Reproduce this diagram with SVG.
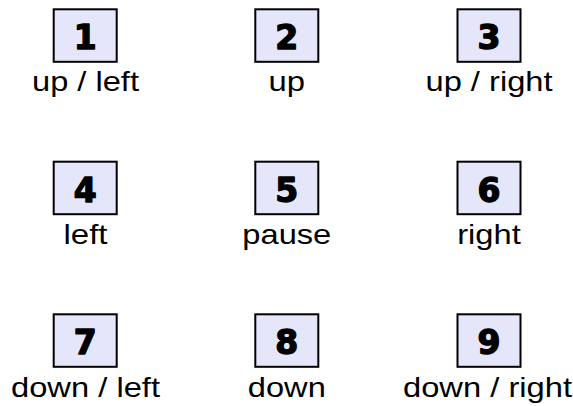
<svg xmlns="http://www.w3.org/2000/svg" width="573" height="406" viewBox="0 0 573 406">
<style>
.box{fill:#e6e6fa;stroke:#000;stroke-width:2}
.num{font-family:"DejaVu Sans",sans-serif;font-weight:bold;font-size:33px;text-anchor:middle;fill:#000;stroke:#000;stroke-width:1.4;stroke-linejoin:round}
.lbl{font-family:"Liberation Sans",Arial,sans-serif;font-size:28px;text-anchor:middle;fill:#000}
</style>
<rect width="573" height="406" fill="#fff"/>
<g id="n1"><rect class="box" x="53.7" y="9.3" width="63" height="52.5"/><text class="num" x="85.2" y="48.5">1</text><text class="lbl" x="85.5" y="91" textLength="107" lengthAdjust="spacingAndGlyphs">up / left</text></g>
<g id="n2"><rect class="box" x="255.3" y="9.3" width="63" height="52.5"/><text class="num" x="286.8" y="48.5">2</text><text class="lbl" x="286.8" y="91" textLength="36.5" lengthAdjust="spacingAndGlyphs">up</text></g>
<g id="n3"><rect class="box" x="457.5" y="9.3" width="63" height="52.5"/><text class="num" x="489" y="48.5">3</text><text class="lbl" x="489" y="91" textLength="127" lengthAdjust="spacingAndGlyphs">up / right</text></g>
<g id="n4"><rect class="box" x="53.7" y="161.7" width="63" height="52.5"/><text class="num" x="85.2" y="201.5">4</text><text class="lbl" x="85.5" y="244" textLength="44" lengthAdjust="spacingAndGlyphs">left</text></g>
<g id="n5"><rect class="box" x="255.3" y="161.7" width="63" height="52.5"/><text class="num" x="286.8" y="201.5">5</text><text class="lbl" x="286.8" y="244" textLength="89" lengthAdjust="spacingAndGlyphs">pause</text></g>
<g id="n6"><rect class="box" x="457.5" y="161.7" width="63" height="52.5"/><text class="num" x="489" y="201.5">6</text><text class="lbl" x="489" y="244" textLength="63.5" lengthAdjust="spacingAndGlyphs">right</text></g>
<g id="n7"><rect class="box" x="53.7" y="314.3" width="63" height="52.5"/><text class="num" x="85.2" y="354">7</text><text class="lbl" x="85.5" y="396.7" textLength="149" lengthAdjust="spacingAndGlyphs">down / left</text></g>
<g id="n8"><rect class="box" x="255.3" y="314.3" width="63" height="52.5"/><text class="num" x="286.8" y="354">8</text><text class="lbl" x="286.8" y="396.7" textLength="78" lengthAdjust="spacingAndGlyphs">down</text></g>
<g id="n9"><rect class="box" x="457.5" y="314.3" width="63" height="52.5"/><text class="num" x="489" y="354">9</text><text class="lbl" x="487.5" y="396.7" textLength="169" lengthAdjust="spacingAndGlyphs">down / right</text></g>
<g id="connectors"/>
</svg>
